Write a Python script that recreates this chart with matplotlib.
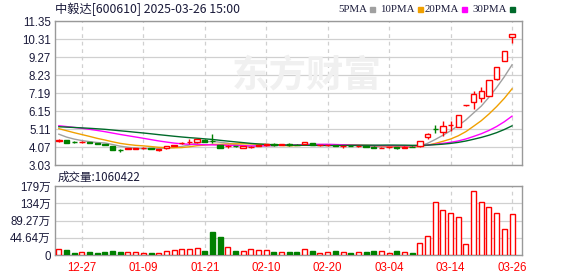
import matplotlib
matplotlib.use('Agg')
import matplotlib.pyplot as plt
import numpy as np
import pandas as pd

# ---------------- data ----------------
dates = ['12-24','12-25','12-26','12-27','12-30','12-31','01-02','01-03','01-06','01-07',
         '01-08','01-09','01-10','01-13','01-14','01-15','01-16','01-17','01-20','01-21',
         '01-22','01-23','01-24','01-27','02-05','02-06','02-07','02-10','02-11','02-12',
         '02-13','02-14','02-17','02-18','02-19','02-20','02-21','02-24','02-25','02-26',
         '02-27','02-28','03-03','03-04','03-05','03-06','03-07','03-10','03-11','03-12',
         '03-13','03-14','03-17','03-18','03-19','03-20','03-21','03-24','03-25','03-26']

opens  = [4.40,4.46,4.38,4.36,4.36,4.30,4.24,4.14,3.92,3.98,
          3.98,3.99,3.99,3.92,3.99,4.14,4.28,4.35,4.38,4.50,
          4.43,4.18,4.10,4.13,4.00,4.06,4.12,4.17,4.27,4.18,
          4.27,4.20,4.25,4.29,4.17,4.16,4.18,4.11,4.13,4.10,
          4.12,4.09,4.00,4.05,4.06,4.04,4.09,4.10,4.62,5.12,
          4.94,5.32,5.25,6.47,6.66,6.91,7.03,7.98,9.05,10.45]
highs  = [4.53,4.47,4.40,4.41,4.38,4.31,4.26,4.15,3.95,4.04,
          4.01,4.05,4.00,3.96,4.13,4.19,4.38,4.56,4.56,4.52,
          4.83,4.20,4.20,4.14,4.12,4.12,4.18,4.24,4.28,4.24,
          4.28,4.22,4.35,4.30,4.20,4.19,4.19,4.14,4.14,4.13,
          4.13,4.10,4.06,4.09,4.07,4.10,4.11,4.42,4.86,5.33,
          5.55,5.60,5.92,6.49,7.28,7.52,7.97,8.72,9.62,10.58]
lows   = [4.38,4.30,4.33,4.33,4.30,4.22,4.16,3.90,3.76,3.95,
          3.96,3.97,3.93,3.83,3.97,4.12,4.23,4.27,4.30,4.35,
          4.31,4.00,4.02,4.08,3.99,4.00,4.10,4.15,4.14,4.16,
          4.15,4.16,4.23,4.17,4.15,4.14,4.12,4.04,4.10,4.09,
          4.07,4.00,3.99,4.03,3.95,4.02,4.05,4.08,4.54,4.90,
          4.69,5.00,5.20,6.41,6.28,6.66,7.00,7.95,9.02,10.05]
closes = [4.50,4.32,4.36,4.38,4.33,4.25,4.19,3.92,3.89,4.02,
          3.99,4.03,3.96,3.94,4.12,4.17,4.32,4.38,4.52,4.37,
          4.41,4.02,4.13,4.11,4.11,4.08,4.16,4.22,4.16,4.22,
          4.17,4.18,4.33,4.19,4.19,4.18,4.13,4.13,4.11,4.12,
          4.09,4.03,4.04,4.07,4.02,4.08,4.07,4.40,4.84,5.12,
          5.31,5.36,5.90,6.49,7.14,7.28,7.93,8.70,9.60,10.58]
# closes of the 29 sessions before the window (needed for the moving averages)
prior_closes = [4.95,5.00,5.05,5.08,5.10,5.12,5.15,5.20,5.25,5.30,
                5.30,5.35,5.42,5.50,5.55,5.60,5.55,5.50,5.48,5.45,
                5.50,5.52,5.45,5.40,5.38,5.15,4.95,4.80,4.65]
volumes = [15.8,14.0,6.0,8.7,8.7,6.0,8.7,11.0,8.7,8.0,
           8.0,6.0,6.0,5.0,11.0,12.5,15.8,15.8,18.4,11.0,
           58.8,45.6,21.0,11.0,11.0,15.8,12.5,12.5,8.7,8.0,
           8.7,8.7,15.8,11.0,5.0,8.0,11.0,8.7,6.0,8.0,
           8.7,11.0,11.0,5.0,11.0,8.0,6.0,31.7,50.0,137.0,
           117.0,110.0,99.0,29.0,167.0,137.0,124.0,110.0,68.6,106.0422]  # 万

price_ticks = [3.03,4.07,5.11,6.15,7.19,8.23,9.27,10.31,11.35]
vol_ticks = [0,44.64,89.27,134,179]
vol_tick_labels = ['0','44.64万','89.27万','134万','179万']
shown_dates = ['12-27','01-09','01-21','02-10','02-20','03-04','03-14','03-26']
ma_periods = [5,10,20,30]
ma_names = ['5PMA','10PMA','20PMA','30PMA']
ma_colors = ['#a0a0a0','#f0a000','#ff00ff','#006a2a']
title = '中毅达[600610] 2025-03-26 15:00'
vol_title = '成交量:1060422'

# ---------------- drawing ----------------
RED = '#ff0000'
GREEN = '#008000'
GRID = '#d0d0d0'
FRAME = '#999999'
TXT = '#1a1a3a'
FONT = ['Liberation Sans', 'Noto Sans CJK SC']
CJK = ['Noto Sans CJK SC', 'DejaVu Sans']

W, H = 578, 276
fig = plt.figure(figsize=(W/100, H/100), dpi=100)
fig.patch.set_facecolor('white')

def px_axes(x0, y0, x1, y1):
    return fig.add_axes([x0/W, 1-y1/H, (x1-x0)/W, (y1-y0)/H])

ax = px_axes(55, 21, 522, 165)
axv = px_axes(55, 186, 522, 255)

n = len(closes)
x = np.arange(n)
o = np.array(opens); c = np.array(closes); h = np.array(highs); l = np.array(lows)
up = c > o
vol_red = c >= o
xpos = [dates.index(d) for d in shown_dates]

all_closes = pd.Series(prior_closes + closes)
for p, col in zip(ma_periods, ma_colors):
    ma = all_closes.rolling(p).mean().values[len(prior_closes):]
    ax.plot(x, ma, color=col, lw=1.0, zorder=2)

colors = [RED if u else GREEN for u in up]
ax.vlines(x, l, h, colors=colors, lw=1.0, zorder=3)
bottoms = np.minimum(o, c)
heights = np.maximum(np.abs(c - o), 0.001)
ax.bar(x, heights, bottom=bottoms, width=0.7,
       facecolor=['white' if u else GREEN for u in up],
       edgecolor=colors, linewidth=1.0, zorder=4)

vcol = [RED if u else GREEN for u in vol_red]
axv.bar(x, volumes, width=0.65, facecolor=['white' if u else GREEN for u in vol_red],
        edgecolor=vcol, linewidth=1.0, zorder=3)

for a in (ax, axv):
    a.set_xlim(-0.5, 60.3)
    a.set_xticks(xpos)
    for xp in xpos:
        a.axvline(xp, color=GRID, lw=0.9, ls=(0, (3, 3)), zorder=0)
    for s in a.spines.values():
        s.set_color(FRAME)
        s.set_linewidth(1.0)
    a.tick_params(axis='both', length=0, pad=3)
    a.tick_params(axis='y', labelsize=8.3, labelcolor=TXT)

ax.set_ylim(3.03, 11.35)
ax.set_yticks(price_ticks)
ax.set_yticklabels([f'{v:.2f}' for v in price_ticks], family=FONT)
for v in price_ticks:
    ax.axhline(v, color=GRID, lw=0.9, zorder=0)
ax.set_xticklabels([])

axv.set_ylim(0, 178.5)
axv.set_yticks(vol_ticks)
axv.set_yticklabels(vol_tick_labels, family=FONT)
for v in vol_ticks:
    axv.axhline(v, color=GRID, lw=0.9, zorder=0)
axv.set_xticklabels(shown_dates, color=RED, fontsize=8.3, family=FONT)
axv.tick_params(axis='x', pad=5)

# watermark
ax.text(0.54, 0.62, '东方财富', transform=ax.transAxes, ha='center', va='center',
        fontsize=27, color='#f0f0f0', family=CJK, fontweight='bold', style='italic', zorder=1)

# title & legend
fig.text(55/W, 1-9/H, title, ha='left', va='center', fontsize=8.8, color=TXT, family=CJK)
fig.text(58/W, 1-177/H, vol_title, ha='left', va='center', fontsize=8.3, color=TXT, family=CJK)

leg_x = [338, 380, 425, 472]
leg_texts = []
for lx, name in zip(leg_x, ma_names):
    leg_texts.append(fig.text(lx/W, 1-9/H, name, ha='left', va='center', fontsize=7.8,
                              color=TXT, family=['Liberation Serif']))
renderer = fig.canvas.get_renderer()
for t, col in zip(leg_texts, ma_colors):
    bb = t.get_window_extent(renderer)
    fig.patches.append(plt.Rectangle(((bb.x1+3)/W, (bb.y0+bb.y1)/2/H - 2.5/H), 5/W, 5/H,
                                     transform=fig.transFigure, color=col, figure=fig))

fig.savefig('out.png', dpi=100, facecolor='white')
